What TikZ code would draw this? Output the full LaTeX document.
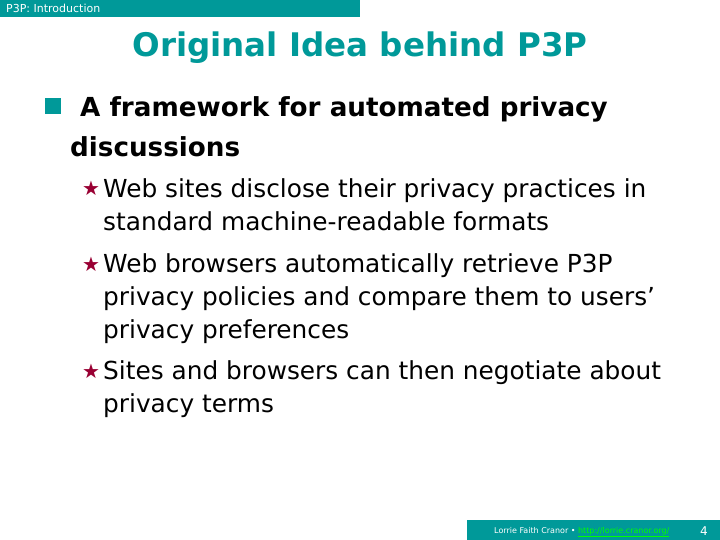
\documentclass[tikz,border=0pt]{standalone}
\usepackage{fontspec}
\setmainfont{DejaVu Sans}
\newfontfamily\starfont{DejaVu Sans}
\definecolor{teal1}{HTML}{009999}
\definecolor{starred}{HTML}{990033}
\begin{document}
\begin{tikzpicture}[x=1pt,y=-1pt,
  txt/.style={anchor=base west,inner sep=0pt,font=\fontsize{24.8}{25}\selectfont},
  lvone/.style={anchor=base west,inner sep=0pt,font=\fontsize{26.2}{26}\selectfont\bfseries}]
\useasboundingbox (0,0) rectangle (720,540);
\fill[white] (0,0) rectangle (720,540);
\fill[teal1] (0,0) rectangle (360,17);
\node[anchor=base west,inner sep=0pt,text=white,font=\fontsize{11}{11}\selectfont] (hdr) at (6,13) {P3P: Introduction};
\node[anchor=base,inner sep=0pt,text=teal1,font=\fontsize{32.5}{32}\selectfont\bfseries] (title) at (360,57) {Original Idea behind P3P};
\fill[teal1] (45,98) rectangle (61,114);
\node[lvone] (l1a) at (80,117) {A framework for automated privacy};
\node[lvone] (l1b) at (70,157) {discussions};
\node[txt,text=starred,font=\fontsize{20}{20}\selectfont] (s1) at (82,196) {\starfont ★};
\node[txt] (t1a) at (103,197) {Web sites disclose their privacy practices in};
\node[txt] (t1b) at (103,230) {standard machine-readable formats};
\node[txt,text=starred,font=\fontsize{20}{20}\selectfont] (s2) at (82,271) {\starfont ★};
\node[txt] (t2a) at (103,272) {Web browsers automatically retrieve P3P};
\node[txt] (t2b) at (103,305) {privacy policies and compare them to users’};
\node[txt] (t2c) at (103,338) {privacy preferences};
\node[txt,text=starred,font=\fontsize{20}{20}\selectfont] (s3) at (82,378) {\starfont ★};
\node[txt] (t3a) at (103,379) {Sites and browsers can then negotiate about};
\node[txt] (t3b) at (103,412) {privacy terms};
\fill[teal1] (467,520) rectangle (720,540);
\node[anchor=base west,inner sep=0pt,text=white,font=\fontsize{8}{8}\selectfont] (ft) at (494,533) {Lorrie Faith Cranor \textbullet\ \textcolor{green}{\underline{http://lorrie.cranor.org/}}};
\node[anchor=base,inner sep=0pt,text=white,font=\fontsize{12}{12}\selectfont] (pg) at (704,535) {4};
\end{tikzpicture}
\end{document}
